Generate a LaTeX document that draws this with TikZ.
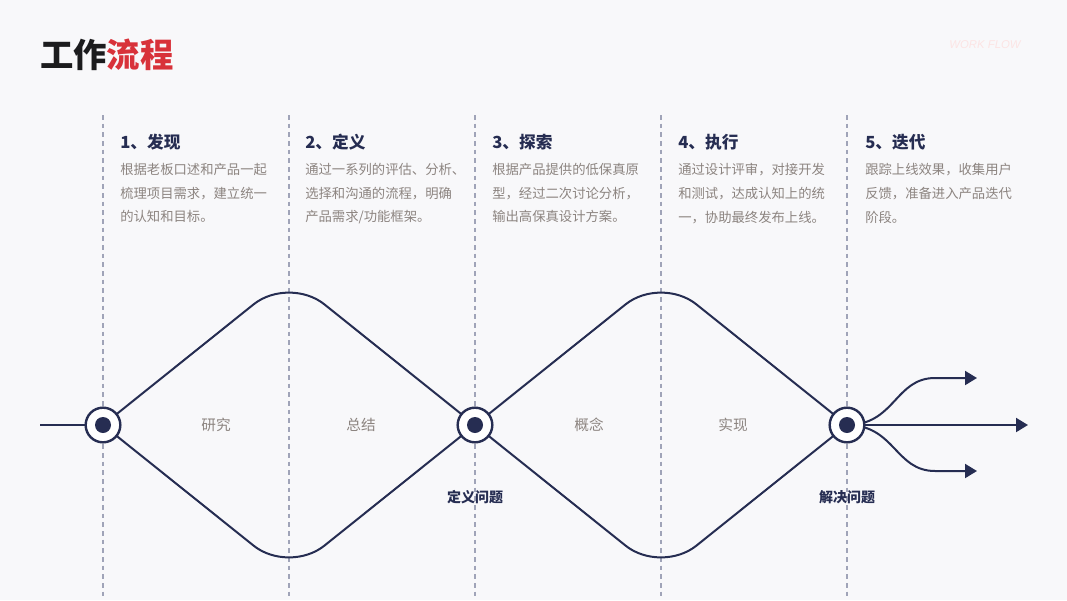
\documentclass[tikz,border=0pt]{standalone}
\usepackage{fontspec}
\setmainfont{Noto Sans CJK SC}
\newfontfamily\latinfont{Liberation Sans}
\usepackage{xcolor}
\usetikzlibrary{arrows.meta,positioning}
\definecolor{wfbg}{RGB}{248,248,250}
\definecolor{wfink}{RGB}{38,45,82}
\definecolor{wfdash}{RGB}{160,164,184}
\definecolor{wftext}{RGB}{140,132,128}
\definecolor{wfblack}{RGB}{28,28,30}
\definecolor{wfred}{RGB}{216,50,58}
\definecolor{wftag}{RGB}{252,228,228}
\tikzset{
  title/.style={font=\fontsize{25}{30}\selectfont\bfseries, text=wfblack, inner sep=0pt},
  tag/.style={font=\latinfont\itshape\fontsize{8.5}{10}\selectfont, text=wftag, inner sep=0pt},
  head/.style={font=\fontsize{12.5}{14}\selectfont\bfseries, text=wfink, inner sep=0pt, anchor=west},
  body/.style={font=\fontsize{10}{17.8}\selectfont, text=wftext, inner sep=0pt,
    align=left, anchor=north west},
  guide/.style={draw=wfdash, line width=0.8pt, dash pattern=on 3.5pt off 3pt},
  flow/.style={draw=wfink, line width=1.5pt, line join=round},
  flowarr/.style={flow, -{Triangle[length=9pt,width=10.5pt]}},
  phase/.style={font=\fontsize{11}{13}\selectfont, text=wftext, inner sep=0pt},
  milestone/.style={font=\fontsize{10.5}{12}\selectfont\bfseries, text=wfink, inner sep=0pt},
  hub/.style={circle, draw=wfink, fill=white, line width=1.8pt, minimum size=26pt,
    inner sep=0pt, path picture={\fill[wfink] (path picture bounding box.center) circle (6pt);}}
}
\begin{document}
\begin{tikzpicture}[x=0.75pt, y=-0.75pt]
  \useasboundingbox (0,0) rectangle (1067,600);
  \fill[wfbg] (0,0) rectangle (1067,600);

  % title
  \node[title, anchor=west] (title) at (40,55) {工作\textcolor{wfred}{流程}};
  \node[tag] (tag) at (985,45) {WORK FLOW};

  % column guides
  \foreach \x in {103,289,475,661,847}
    \draw[guide] (\x,115) -- (\x,600);

  % steps
  \node[head] (h1) at (120,142) {1、发现};
  \node[body] (b1) at (120,163) {根据老板口述和产品一起\\梳理项目需求，建立统一\\的认知和目标。};
  \node[head] (h2) at (305,142) {2、定义};
  \node[body] (b2) at (305,163) {通过一系列的评估、分析、\\选择和沟通的流程，明确\\产品需求/功能框架。};
  \node[head] (h3) at (492,142) {3、探索};
  \node[body] (b3) at (492,163) {根据产品提供的低保真原\\型，经过二次讨论分析，\\输出高保真设计方案。};
  \node[head] (h4) at (678,142) {4、执行};
  \node[body] (b4) at (678,163) {通过设计评审，对接开发\\和测试，达成认知上的统\\一，协助最终发布上线。};
  \node[head] (h5) at (865,142) {5、迭代};
  \node[body] (b5) at (865,163) {跟踪上线效果，收集用户\\反馈，准备进入产品迭代\\阶段。};

  % flow line
  \coordinate (start) at (40,425);
  \coordinate (p1) at (103,425);
  \coordinate (p2) at (475,425);
  \coordinate (p3) at (847,425);
  \coordinate (o1) at (977,378);
  \coordinate (o2) at (1028,425);
  \coordinate (o3) at (977,471);
  \draw[flow] (start) -- (p1);
  \draw[flow, rounded corners=34pt] (p1) -- (289,276) -- (p2);
  \draw[flow, rounded corners=34pt] (p1) -- (289,574) -- (p2);
  \draw[flow, rounded corners=34pt] (p2) -- (661,276) -- (p3);
  \draw[flow, rounded corners=34pt] (p2) -- (661,574) -- (p3);
  \draw[flowarr] (p3) .. controls (895,425) and (895,378) .. (935,378) -- (o1);
  \draw[flowarr] (p3) -- (o2);
  \draw[flowarr] (p3) .. controls (895,425) and (895,471) .. (935,471) -- (o3);

  \node[hub] (hub1) at (p1) {};
  \node[hub] (hub2) at (p2) {};
  \node[hub] (hub3) at (p3) {};

  % labels
  \node[phase] (l1) at (216,425) {研究};
  \node[phase] (l2) at (361,425) {总结};
  \node[phase] (l3) at (589,425) {概念};
  \node[phase] (l4) at (733,425) {实现};
  \node[milestone] (m1) at (475,497) {定义问题};
  \node[milestone] (m2) at (847,497) {解决问题};
\end{tikzpicture}
\end{document}
